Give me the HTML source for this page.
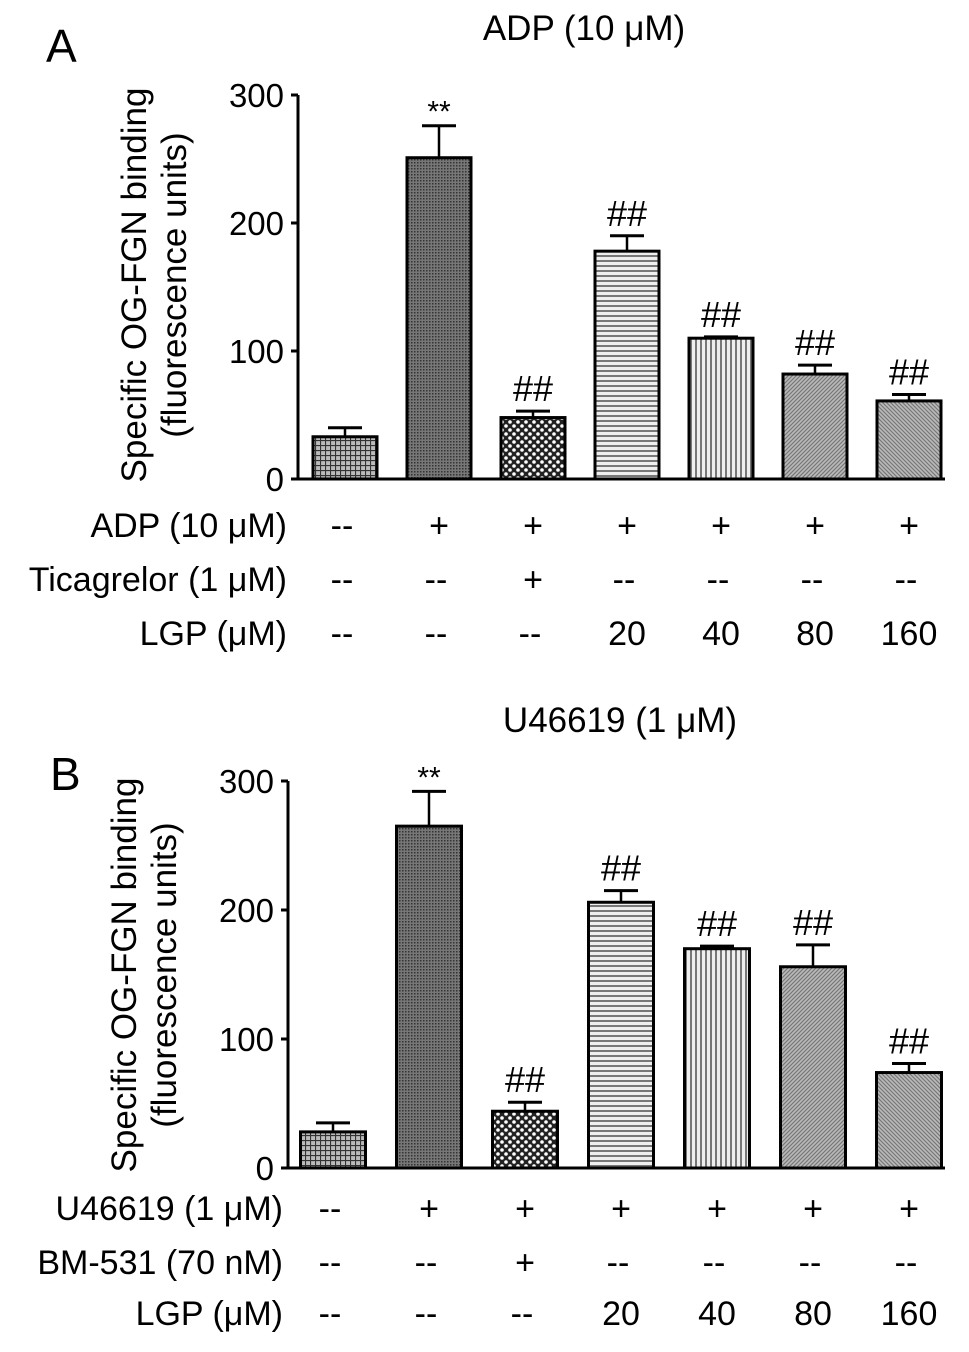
<!DOCTYPE html>
<html><head><meta charset="utf-8"><style>
html,body{margin:0;padding:0;background:#fff}
svg text{font-family:"Liberation Sans",Arial,sans-serif;fill:#000}
</style></head><body>
<svg id="fig" width="969" height="1347" viewBox="0 0 969 1347" xmlns="http://www.w3.org/2000/svg">
<defs>
<pattern id="p0" width="5" height="5" patternUnits="userSpaceOnUse"><rect width="5" height="5" fill="#bbb"/><path d="M0 0.5H5M0.5 0V5" stroke="#333" stroke-width="1.2"/></pattern>
<pattern id="p1" width="3" height="3" patternUnits="userSpaceOnUse"><rect width="3" height="3" fill="#777"/><rect width="1.5" height="1.5" fill="#333"/></pattern>
<pattern id="p2" width="8" height="8" patternUnits="userSpaceOnUse"><rect width="8" height="8" fill="#222"/><circle cx="2" cy="2" r="1.8" fill="#fff"/><circle cx="6" cy="6" r="1.8" fill="#fff"/></pattern>
<pattern id="p3" width="5" height="5" patternUnits="userSpaceOnUse"><rect width="5" height="5" fill="#eee"/><path d="M0 1H5" stroke="#777" stroke-width="2"/></pattern>
<pattern id="p4" width="5" height="5" patternUnits="userSpaceOnUse"><rect width="5" height="5" fill="#eee"/><path d="M1 0V5" stroke="#777" stroke-width="2"/></pattern>
<pattern id="p5" width="4" height="4" patternUnits="userSpaceOnUse"><rect width="4" height="4" fill="#bbb"/><path d="M-1 1L1 -1M0 4L4 0M3 5L5 3" stroke="#777" stroke-width="1.2"/></pattern>
<pattern id="p6" width="4" height="4" patternUnits="userSpaceOnUse"><rect width="4" height="4" fill="#bbb"/><path d="M-1 3L1 5M0 0L4 4M3 -1L5 1" stroke="#777" stroke-width="1.2"/></pattern>
</defs>
<g id="root"></g>
</svg>
<script>
const categories = ["ctrl","agonist","antagonist","LGP20","LGP40","LGP80","LGP160"];
const valuesA = [33, 251, 48, 178, 110, 82, 61];
const errorsA = [7, 25, 5, 12, 1, 7, 5];
const marksA = ["", "**", "##", "##", "##", "##", "##"];
const valuesB = [28, 265, 44, 206, 170, 156, 74];
const errorsB = [7, 27, 7, 9, 2, 17, 7];
const marksB = ["", "**", "##", "##", "##", "##", "##"];
const yTicks = [0, 100, 200, 300];
const rowsA = [["ADP (10 μM)", ["--","+","+","+","+","+","+"]],["Ticagrelor (1 μM)", ["--","--","+","--","--","--","--"]],["LGP (μM)", ["--","--","--","20","40","80","160"]]];
const rowsB = [["U46619 (1 μM)", ["--","+","+","+","+","+","+"]],["BM-531 (70 nM)", ["--","--","+","--","--","--","--"]],["LGP (μM)", ["--","--","--","20","40","80","160"]]];

const NS="http://www.w3.org/2000/svg";
const root=document.getElementById('root');
function mk(tag,attrs,parent,text){const e=document.createElementNS(NS,tag);for(const k in attrs)e.setAttribute(k,attrs[k]);if(text!==undefined)e.textContent=text;(parent||root).appendChild(e);return e;}

function panel(cfg,values,errors,marks,rows,id){
  const g=mk('g',{});
  
  
  const y=v=>cfg.y0-(v/300)*(cfg.y0-cfg.yTop);
  const x=i=>cfg.xFirst+i*cfg.step;
  const lt=mk('text',{x:cfg.letterX,y:cfg.letterY,'font-size':46},g,id==='a'?'A':'B');
  
  
  const tt=mk('text',{x:cfg.titleX,y:cfg.titleY,'font-size':35,'text-anchor':'middle'},g,cfg.title);
  
  
  const ya=mk('line',{x1:cfg.ax,y1:cfg.yTop,x2:cfg.ax,y2:cfg.y0,stroke:'#000','stroke-width':3},g);
  
  
  const xa=mk('line',{x1:cfg.ax-2,y1:cfg.y0,x2:945,y2:cfg.y0,stroke:'#000','stroke-width':3},g);
  
  
  yTicks.forEach(t=>{
    mk('line',{x1:cfg.ax-7,y1:y(t),x2:cfg.ax,y2:y(t),stroke:'#000','stroke-width':3},g);
    const tl=mk('text',{x:cfg.ax-14,y:y(t)+12,'font-size':33,'text-anchor':'end'},g,String(t));
    
    
  });
  const yt=mk('text',{transform:`translate(${cfg.ytX},${cfg.ytY}) rotate(-90)`,'font-size':35,'text-anchor':'middle'},g);
  
  
  mk('tspan',{x:0,y:0},yt,'Specific OG-FGN binding');
  mk('tspan',{x:0,y:40},yt,'(fluorescence units)');
  values.forEach((v,i)=>{
    const cx=x(i), top=y(v), et=y(v+errors[i]);
    const e=mk('line',{x1:cx,y1:top,x2:cx,y2:et,stroke:'#000','stroke-width':2.5},g);
    
    
    mk('line',{x1:cx-17,y1:et,x2:cx+17,y2:et,stroke:'#000','stroke-width':3},g);
    const b=mk('rect',{x:cx-cfg.bw/2,y:top,width:cfg.bw,height:cfg.y0-top,fill:`url(#p${i})`,stroke:'#000','stroke-width':3},g);
    
    
    if(marks[i]){
      const m=mk('text',{x:cx,y:et-(marks[i]==='**'?4:10),'font-size':marks[i]==='**'?30:36,'text-anchor':'middle'},g,marks[i]);
      
      
    }
  });
  rows.forEach((r,ri)=>{
    const ry=cfg.rowY[ri];
    const rl=mk('text',{x:cfg.rowLabelX,y:ry,'font-size':34,'text-anchor':'end'},g,r[0]);
    
    
    r[1].forEach((s,i)=>{
      const c=mk('text',{x:x(i)+(s==='--'?-3:0),y:ry,'font-size':34,'text-anchor':'middle'},g,s);
      
      
    });
  });
}
panel({y0:479,yTop:95,ax:298,xFirst:345,step:94,bw:64,letterX:46,letterY:62,title:'ADP (10 μM)',titleX:584,titleY:40,ytX:146,ytY:285,rowY:[537,591,645],rowLabelX:287},valuesA,errorsA,marksA,rowsA,'a');
panel({y0:1168,yTop:781,ax:288,xFirst:333,step:96,bw:65,letterX:50,letterY:790,title:'U46619 (1 μM)',titleX:620,titleY:732,ytX:136,ytY:975,rowY:[1220,1274,1325],rowLabelX:283},valuesB,errorsB,marksB,rowsB,'b');
</script>
</body></html>
